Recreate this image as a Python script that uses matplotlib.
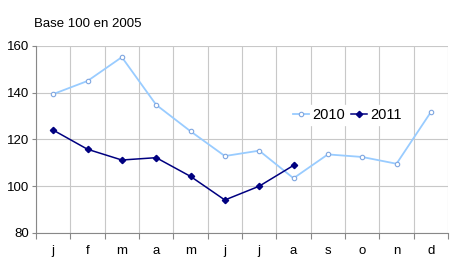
import numpy as np
import matplotlib.pyplot as plt

plt.rcParams['font.family'] = ['Liberation Sans', 'DejaVu Sans']

# Data
months = ["j", "f", "m", "a", "m", "j", "j", "a", "s", "o", "n", "d"]
v2010 = [139.4, 145.0, 155.2, 134.8, 123.5, 112.9, 115.2, 103.4, 113.6, 112.5, 109.6, 131.7]
v2011 = [124.0, 115.8, 111.2, 112.2, 104.2, 94.1, 100.0, 108.9]

x = np.arange(len(months))

fig = plt.figure(figsize=(4.5, 2.8), dpi=100)
ax = fig.add_axes([0.08, 0.168, 0.9156, 0.668])

ax.plot(x, v2010, color="#99ccff", lw=1.3, marker="o", ms=3.2,
        mfc="white", mec="#7fa6e0", mew=0.8, label="2010")
ax.plot(x[:len(v2011)], v2011, color="#000080", lw=1.1, marker="D", ms=3.2,
        mfc="#000080", mec="#000080", label="2011")

ax.set_xlim(-0.5, 11.5)
ax.set_ylim(80, 160)
ax.set_yticks([80, 100, 120, 140, 160])

# category boundaries carry the grid and the ticks
ax.set_xticks(np.arange(-0.5, 12, 1))
ax.set_xticklabels([])
ax.set_xticks(x, minor=True)
ax.set_xticklabels(months, minor=True)
ax.tick_params(axis="x", which="minor", length=0, pad=9, labelsize=9.5)
ax.tick_params(axis="x", which="major", length=4, color="#888888")
ax.tick_params(axis="y", length=3, color="#888888", labelsize=9.5, pad=2)

ax.grid(True, which="major", color="#c8c8c8", lw=0.8)
ax.set_axisbelow(True)
for s in ["top", "right"]:
    ax.spines[s].set_visible(False)
for s in ["left", "bottom"]:
    ax.spines[s].set_color("#888888")

fig.text(0.075, 0.905, "Base 100 en 2005", fontsize=9.5)

leg = ax.legend(loc="center left", bbox_to_anchor=(0.6, 0.63), ncol=2,
                frameon=True, fontsize=10.5, handlelength=1.1, handletextpad=0.2,
                columnspacing=0.4, borderpad=0.2, fancybox=False)
leg.get_frame().set_edgecolor("white")
leg.get_frame().set_facecolor("white")
leg.get_frame().set_alpha(1)

fig.savefig("out.png", dpi=100)
